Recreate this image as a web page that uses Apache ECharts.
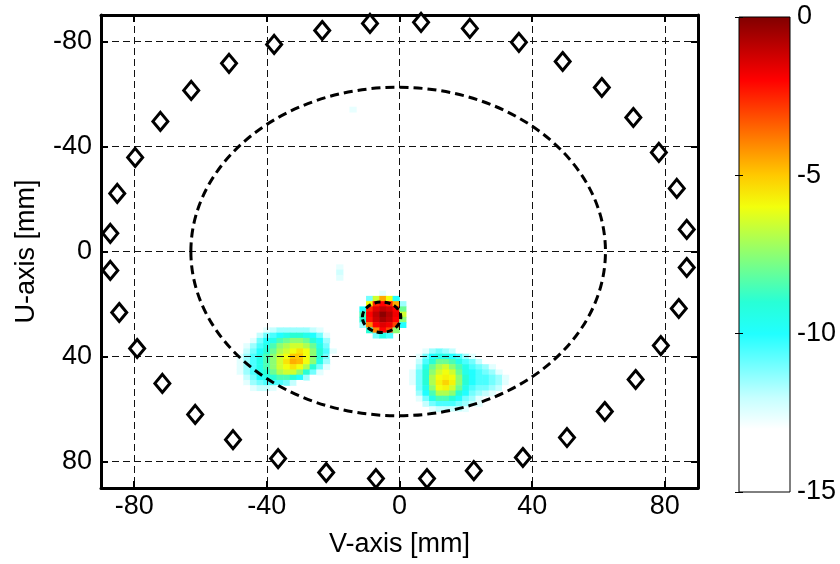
<!DOCTYPE html>
<html><head><meta charset="utf-8">
<script src="https://cdn.jsdelivr.net/npm/echarts@6/dist/echarts.min.js"></script>
<style>html,body{margin:0;padding:0;background:#fff}#chart{width:840px;height:564px}</style>
</head><body><div id="chart"></div>
<script>
// ---------- data ----------
const axisTickValues = [-80, -40, 0, 40, 80];
const colorbarMin = -15, colorbarMax = 0, colorbarStep = 5;
// jet-like colormap, values -15 ... 0 (one colour per dB)
const colorbarColors = ['#ffffff','#ffffff','#ffffff','#c5ffff','#73ffff','#21ffff','#28ffd6','#6bff94',
  '#aeff51','#f2ff0d','#ffc900','#ff8600','#ff4300','#ff0000','#c00000','#800000'];

// antenna positions [mm]
const sensorV = [-8.9,-23.3,-37.8,-51.4,-62.8,-72.1,-79.7,-85.1,-87.2,-87.2,-84.5,-79.1,-71.5,-61.6,-50.2,-36.6,-22.1,-7.1,
                  8.3,22.4,37.2,50.5,61.9,71.2,78.8,84.2,86.6,86.6,83.6,78.2,70.5,61.0,49.2,36.0,21.2,6.5];
const sensorU = [-86.8,-84.1,-78.8,-71.6,-61.3,-49.5,-35.8,-22.1,-6.9,7.2,23.2,36.9,50.2,62.0,71.6,78.8,84.1,86.4,
                  86.4,83.4,78.4,70.8,60.9,48.7,35.8,21.7,6.1,-8.4,-24.0,-37.7,-51.0,-62.4,-72.3,-79.6,-84.9,-87.2];

// circles: [centre V, centre U, radius] in mm
const boundaryCircle = [-0.4, 0, 62.5];
const targetCircle = [-5.4, 25, 5.8];

// image values [dB] on 2 mm cells (null = below display floor)
const n = null;
const leftBlobV = [-48,-46,-44,-42,-40,-38,-36,-34,-32,-30,-28,-26,-24,-22,-20];
const leftBlobU = [30,32,34,36,38,40,42,44,46,48,50,52];
const leftBlobValues = [
  [n,n,n,n,-12.5,-12,-11.5,-11.5,-11.5,-11.5,-11.5,-12,-12.5,n,n],
  [n,n,n,-12,-11,-10.5,-10,-9.5,-9,-9,-9.5,-10,-11,-12.5,n],
  [n,n,-12.5,-11,-10,-9.5,-8.5,-8,-7.5,-7.5,-8,-9,-10,-11.5,n],
  [n,-12.5,-11.5,-10.5,-9.5,-8.5,-7.5,-7,-6.5,-6.5,-7,-8,-9.5,-11,-13],
  [-13,-12,-11,-10,-9,-8,-7,-6.5,-6,-5.5,-6,-7.5,-9,-10.5,-12.5],
  [-12.5,-11.5,-10.5,-9.5,-8.5,-7.5,-6.5,-6,-5,-5,-6,-7.5,-9,-11,-13],
  [-12.5,-11.5,-10.5,-9.5,-8.5,-7.5,-6.5,-5.5,-4.6,-4.8,-6,-7.5,-9.5,-11.5,n],
  [-12.5,-11.5,-10.5,-9.5,-8.5,-7.5,-6.5,-6,-5.5,-6,-7,-9,-11,-12.5,n],
  [-12.5,-11.5,-10.5,-9.5,-9,-8,-7,-6.5,-6.5,-7.5,-9,-11,-12.5,n,n],
  [-13,-12,-11,-10,-9.5,-9,-8.5,-8.5,-9,-10,-11.5,-13,n,n,n],
  [n,-12.5,-11.5,-11,-10.5,-10.5,-10.5,-11,-12,-13,n,n,n,n,n],
  [n,-13,-12.5,-12,-12,-12.5,-13,n,n,n,n,n,n,n,n]
];
const rightBlobV = [4,6,8,10,12,14,16,18,20,22,24,26,28,30,32,34];
const rightBlobU = [38,40,42,44,46,48,50,52,54,56,58,60,62];
const rightBlobValues = [
  [n,n,-12.5,-11.5,-11,-11.5,-12,-13,n,n,n,n,n,n,n,n],
  [n,-12.5,-11,-10,-9.5,-9.5,-10,-10.5,-11.5,-12.5,n,n,n,n,n,n],
  [n,-12,-10.5,-9,-8,-8,-8.5,-9.5,-10.5,-11,-12,-13,n,n,n,n],
  [-13,-11.5,-9.5,-8,-7,-6.5,-7.5,-8.5,-9.5,-10.5,-11,-11.5,-12.5,n,n,n],
  [-12.5,-11,-9,-7.5,-6.5,-6,-6.5,-8,-9.5,-10,-10.5,-11,-11.5,-12.5,n,n],
  [-12.5,-11,-9,-7,-6,-5.8,-6,-7.5,-9,-10,-10.5,-10.5,-11,-11.5,-12.5,n],
  [-12.5,-11,-9,-7,-5.8,-5.2,-5.8,-7.5,-9,-10,-10.5,-10.5,-11,-11.5,-12.5,-13],
  [-13,-11,-9.5,-7.5,-6,-5.8,-6.5,-8,-9.5,-10.5,-11,-11,-11.5,-12,-13,n],
  [n,-11.5,-10,-8.5,-7,-7,-7.5,-9,-10,-11,-11.5,-12,-12.5,n,n,n],
  [n,-12.5,-11,-9.5,-8.5,-8.5,-9,-10,-11,-11.5,-12.5,n,n,n,n,n],
  [n,n,-12,-11,-10.5,-10.5,-10.5,-11,-11.5,-12,-12.5,n,n,n,n,n],
  [n,n,n,-12.5,-12,-12,-12,-12,-12.5,-13,n,n,n,n,n,n],
  [n,n,n,n,n,n,-13,-13,n,n,n,n,n,n,n,n]
];
const targetBlobV = [-13,-11,-9,-7,-5,-3,-1,1,3];
const targetBlobU = [16,18,20,22,24,26,28,30,32];
const targetBlobValues = [
  [n,n,n,-13,-12.5,-13,n,n,n],
  [n,n,-11,-6.5,-4.5,-6,-10,n,n],
  [n,-13,-6,-2.5,-2,-2.5,-4.5,-11.5,n],
  [n,-10,-2.5,-1.5,-1,-1.3,-2,-8,n],
  [n,-8.5,-2,-1,-0.2,-0.8,-1.8,-6.5,n],
  [n,-9,-2.2,-1.2,-0.6,-1,-2,-7.5,n],
  [n,-11.5,-4,-2,-1.5,-1.8,-3,-10,n],
  [n,n,-9,-4,-2,-3,-7.5,n,n],
  [n,n,n,-11,-9.5,-10.5,n,n,n]
];
const speckV = [-18,-18,-18,-14];
const speckU = [6,8,10,-54];
const speckValues = [-12.6,-12.2,-12.5,-12.6];

// ---------- build ----------
function blobCells(vs, us, rows) {
  const step = Math.abs(vs[1] - vs[0]);
  const out = [];
  rows.forEach((row, i) => row.forEach((val, j) => {
    if (val !== null) out.push([vs[j], us[i], val, step]);
  }));
  return out;
}
const cells = [].concat(
  blobCells(leftBlobV, leftBlobU, leftBlobValues),
  blobCells(rightBlobV, rightBlobU, rightBlobValues),
  blobCells(targetBlobV, targetBlobU, targetBlobValues),
  speckV.map((v, i) => [v, speckU[i], speckValues[i], 2])
);
const sensors = sensorV.map((v, i) => [v, sensorU[i]]);

const FONT = 'Liberation Sans, Arial, Helvetica, sans-serif';
const FS = 27;

function circleSeries(c, dash) {
  return {
    type: 'custom', xAxisIndex: 0, yAxisIndex: 0, z: 3, silent: true,
    data: [c],
    renderItem: function (params, api) {
      const p = api.coord([api.value(0), api.value(1)]);
      const s = api.size([api.value(2), api.value(2)]);
      return { type: 'ellipse', shape: { cx: p[0], cy: p[1], rx: s[0], ry: s[1] },
        style: { fill: 'none', stroke: '#000', lineWidth: 3, lineDash: dash } };
    }
  };
}

const mainAxisCommon = {
  type: 'value', min: -90, max: 90, gridIndex: 0, z: 2,
  axisLine: { show: true, onZero: false, lineStyle: { color: '#000', width: 3 } },
  axisTick: { show: true, inside: true, length: 7, customValues: axisTickValues, lineStyle: { color: '#000', width: 2 } },
};

const chart = echarts.init(document.getElementById('chart'), null, { renderer: 'canvas' });
chart.setOption({
  animation: false,
  backgroundColor: '#fff',
  textStyle: { fontFamily: FONT },
  grid: [
    { left: 101, top: 15, width: 597, height: 473, containLabel: false, outerBoundsMode: 'none' },
    { left: 739, top: 17, width: 51, height: 475, containLabel: false, outerBoundsMode: 'none' }
  ],
  visualMap: {
    type: 'continuous', show: false, min: colorbarMin, max: colorbarMax, dimension: 2, seriesIndex: 0,
    inRange: { color: colorbarColors }
  },
  xAxis: [
    Object.assign({}, mainAxisCommon, {
      position: 'bottom',
      name: 'V-axis [mm]', nameLocation: 'middle', nameGap: 43,
      nameTextStyle: { fontSize: FS, color: '#000', fontFamily: FONT },
      axisLabel: { customValues: axisTickValues, fontSize: FS, color: '#000', margin: 5, fontFamily: FONT },
      splitLine: { show: true, lineStyle: { color: '#111', width: 1, type: [7, 4] } }
    }),
    Object.assign({}, mainAxisCommon, {
      position: 'top', axisLabel: { show: false }, splitLine: { show: false }
    }),
    { type: 'value', gridIndex: 1, min: 0, max: 1, show: false }
  ],
  yAxis: [
    Object.assign({}, mainAxisCommon, {
      position: 'left', inverse: true,
      name: 'U-axis [mm]', nameLocation: 'middle', nameGap: 61, nameRotate: 90,
      nameTextStyle: { fontSize: FS, color: '#000', fontFamily: FONT },
      axisLabel: { customValues: axisTickValues, fontSize: FS, color: '#000', margin: 9, fontFamily: FONT },
      splitLine: { show: true, lineStyle: { color: '#111', width: 1, type: [7, 4] } }
    }),
    Object.assign({}, mainAxisCommon, {
      position: 'right', inverse: true, axisLabel: { show: false }, splitLine: { show: false }
    }),
    { type: 'value', gridIndex: 1, min: colorbarMin, max: colorbarMax, interval: colorbarStep, position: 'right', z: 5,
      axisLine: { show: false },
      axisTick: { show: true, inside: true, length: 4, lineStyle: { color: '#000', width: 1 } },
      axisLabel: { fontSize: FS, color: '#000', margin: 7, fontFamily: FONT },
      splitLine: { show: false } },
    { type: 'value', gridIndex: 1, min: colorbarMin, max: colorbarMax, interval: colorbarStep, position: 'left', z: 5,
      axisLine: { show: false },
      axisTick: { show: true, inside: true, length: 4, lineStyle: { color: '#000', width: 1 } },
      axisLabel: { show: false }, splitLine: { show: false } }
  ],
  series: [
    {
      type: 'custom', xAxisIndex: 0, yAxisIndex: 0, z: 1, silent: true, clip: true,
      encode: { x: 0, y: 1 },
      data: cells,
      renderItem: function (params, api) {
        const p = api.coord([api.value(0), api.value(1)]);
        const s = api.size([api.value(3), api.value(3)]);
        return { type: 'rect',
          shape: { x: p[0] - s[0] / 2 - 0.3, y: p[1] - s[1] / 2 - 0.3, width: s[0] + 0.6, height: s[1] + 0.6 },
          style: { fill: api.visual('color') } };
      }
    },
    circleSeries(boundaryCircle, [9, 5]),
    circleSeries(targetCircle, [6, 4]),
    {
      type: 'scatter', xAxisIndex: 0, yAxisIndex: 0, z: 4, silent: true,
      symbol: 'diamond', symbolSize: [15, 18],
      itemStyle: { color: '#fff', borderColor: '#000', borderWidth: 3, opacity: 1 },
      data: sensors
    },
    {
      type: 'custom', xAxisIndex: 2, yAxisIndex: 2, z: 1, silent: true,
      data: [[0.5, (colorbarMin + colorbarMax) / 2]],
      renderItem: function (params, api) {
        const cs = params.coordSys;
        const stops = colorbarColors.map((c, i) => ({ offset: i / (colorbarColors.length - 1), color: c }));
        return { type: 'rect', shape: { x: cs.x, y: cs.y, width: cs.width, height: cs.height },
          style: { fill: new echarts.graphic.LinearGradient(0, 1, 0, 0, stops), stroke: '#000', lineWidth: 1 } };
      }
    }
  ]
});
</script>
</body></html>
